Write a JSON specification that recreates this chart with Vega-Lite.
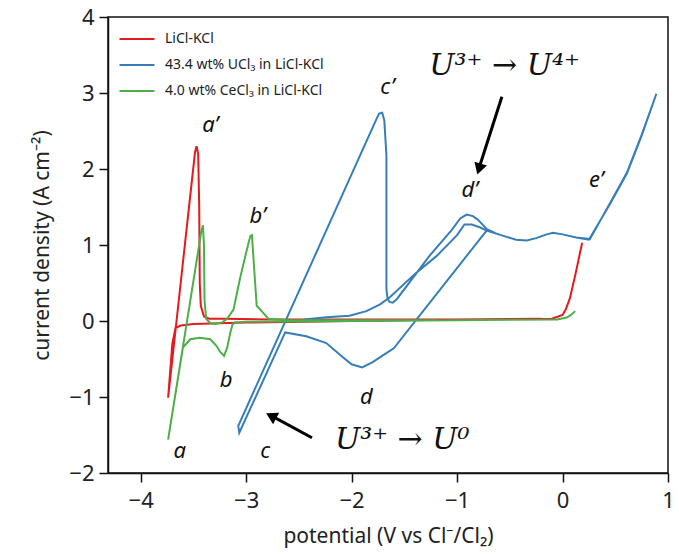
{
  "$schema": "https://vega.github.io/schema/vega-lite/v6.json",
  "width": 560,
  "height": 456,
  "autosize": {"type": "none"},
  "padding": {"left": 108, "top": 17, "right": 11, "bottom": 81},
  "background": "white",
  "config": {
    "font": "Noto Sans",
    "view": {"stroke": "#111", "strokeWidth": 1.5},
    "axis": {"grid": false, "domainColor": "#111", "domainWidth": 1.5, "tickColor": "#111", "tickWidth": 1.5, "tickSize": 9, "labelFontSize": 22, "labelColor": "#222", "titleFontSize": 21, "titleFontWeight": "normal", "titleColor": "#222", "labelFlush": false, "labelBound": false, "labelOverlap": false, "format": "d"}
  },
  "datasets": {
    "curves": [
      {"series": "LiCl-KCl", "i": 1, "E": 0.186, "j": 1.03},
      {"series": "LiCl-KCl", "i": 2, "E": 0.12, "j": 0.6},
      {"series": "LiCl-KCl", "i": 3, "E": 0.07, "j": 0.3},
      {"series": "LiCl-KCl", "i": 4, "E": 0.03, "j": 0.15},
      {"series": "LiCl-KCl", "i": 5, "E": 0.0, "j": 0.08},
      {"series": "LiCl-KCl", "i": 6, "E": -0.1, "j": 0.03},
      {"series": "LiCl-KCl", "i": 7, "E": -1.0, "j": 0.02},
      {"series": "LiCl-KCl", "i": 8, "E": -2.0, "j": 0.0},
      {"series": "LiCl-KCl", "i": 9, "E": -3.0, "j": -0.02},
      {"series": "LiCl-KCl", "i": 10, "E": -3.5, "j": -0.04},
      {"series": "LiCl-KCl", "i": 11, "E": -3.62, "j": -0.06},
      {"series": "LiCl-KCl", "i": 12, "E": -3.67, "j": -0.09},
      {"series": "LiCl-KCl", "i": 13, "E": -3.7, "j": -0.3},
      {"series": "LiCl-KCl", "i": 14, "E": -3.74, "j": -1.01},
      {"series": "LiCl-KCl", "i": 15, "E": -3.485, "j": 2.22},
      {"series": "LiCl-KCl", "i": 16, "E": -3.47, "j": 2.3},
      {"series": "LiCl-KCl", "i": 17, "E": -3.455, "j": 2.2},
      {"series": "LiCl-KCl", "i": 18, "E": -3.445, "j": 1.5},
      {"series": "LiCl-KCl", "i": 19, "E": -3.44, "j": 0.5},
      {"series": "LiCl-KCl", "i": 20, "E": -3.43, "j": 0.2},
      {"series": "LiCl-KCl", "i": 21, "E": -3.4, "j": 0.06},
      {"series": "LiCl-KCl", "i": 22, "E": -3.35, "j": 0.03},
      {"series": "LiCl-KCl", "i": 23, "E": -3.2, "j": 0.03},
      {"series": "LiCl-KCl", "i": 24, "E": -2.8, "j": 0.02},
      {"series": "LiCl-KCl", "i": 25, "E": -2.0, "j": 0.02},
      {"series": "LiCl-KCl", "i": 26, "E": -1.0, "j": 0.02},
      {"series": "LiCl-KCl", "i": 27, "E": -0.2, "j": 0.03},

      {"series": "UCl3", "i": 1, "E": -2.45, "j": 0.02},
      {"series": "UCl3", "i": 2, "E": -2.24, "j": 0.05},
      {"series": "UCl3", "i": 3, "E": -2.02, "j": 0.07},
      {"series": "UCl3", "i": 4, "E": -1.86, "j": 0.13},
      {"series": "UCl3", "i": 5, "E": -1.73, "j": 0.22},
      {"series": "UCl3", "i": 6, "E": -1.64, "j": 0.31},
      {"series": "UCl3", "i": 7, "E": -1.4, "j": 0.62},
      {"series": "UCl3", "i": 8, "E": -1.19, "j": 0.86},
      {"series": "UCl3", "i": 9, "E": -1.0, "j": 1.13},
      {"series": "UCl3", "i": 10, "E": -0.93, "j": 1.27},
      {"series": "UCl3", "i": 11, "E": -0.86, "j": 1.27},
      {"series": "UCl3", "i": 12, "E": -0.78, "j": 1.23},
      {"series": "UCl3", "i": 13, "E": -0.72, "j": 1.19},
      {"series": "UCl3", "i": 14, "E": -0.56, "j": 1.12},
      {"series": "UCl3", "i": 15, "E": -0.44, "j": 1.07},
      {"series": "UCl3", "i": 16, "E": -0.34, "j": 1.06},
      {"series": "UCl3", "i": 17, "E": -0.25, "j": 1.09},
      {"series": "UCl3", "i": 18, "E": -0.15, "j": 1.14},
      {"series": "UCl3", "i": 19, "E": -0.09, "j": 1.16},
      {"series": "UCl3", "i": 20, "E": 0.0, "j": 1.14},
      {"series": "UCl3", "i": 21, "E": 0.13, "j": 1.1},
      {"series": "UCl3", "i": 22, "E": 0.26, "j": 1.08},
      {"series": "UCl3", "i": 23, "E": 0.45, "j": 1.55},
      {"series": "UCl3", "i": 24, "E": 0.61, "j": 1.95},
      {"series": "UCl3", "i": 25, "E": 0.75, "j": 2.45},
      {"series": "UCl3", "i": 26, "E": 0.89, "j": 2.99},
      {"series": "UCl3", "i": 27, "E": 0.75, "j": 2.44},
      {"series": "UCl3", "i": 28, "E": 0.61, "j": 1.94},
      {"series": "UCl3", "i": 29, "E": 0.45, "j": 1.54},
      {"series": "UCl3", "i": 30, "E": 0.25, "j": 1.07},
      {"series": "UCl3", "i": 31, "E": 0.13, "j": 1.1},
      {"series": "UCl3", "i": 32, "E": 0.0, "j": 1.14},
      {"series": "UCl3", "i": 33, "E": -0.09, "j": 1.16},
      {"series": "UCl3", "i": 34, "E": -0.15, "j": 1.14},
      {"series": "UCl3", "i": 35, "E": -0.25, "j": 1.09},
      {"series": "UCl3", "i": 36, "E": -0.34, "j": 1.06},
      {"series": "UCl3", "i": 37, "E": -0.44, "j": 1.07},
      {"series": "UCl3", "i": 38, "E": -0.56, "j": 1.12},
      {"series": "UCl3", "i": 39, "E": -0.72, "j": 1.19},
      {"series": "UCl3", "i": 40, "E": -1.6, "j": -0.36},
      {"series": "UCl3", "i": 41, "E": -1.7, "j": -0.45},
      {"series": "UCl3", "i": 42, "E": -1.8, "j": -0.54},
      {"series": "UCl3", "i": 43, "E": -1.9, "j": -0.61},
      {"series": "UCl3", "i": 44, "E": -2.0, "j": -0.57},
      {"series": "UCl3", "i": 45, "E": -2.08, "j": -0.48},
      {"series": "UCl3", "i": 46, "E": -2.24, "j": -0.29},
      {"series": "UCl3", "i": 47, "E": -2.43, "j": -0.2},
      {"series": "UCl3", "i": 48, "E": -2.63, "j": -0.15},
      {"series": "UCl3", "i": 49, "E": -3.065, "j": -1.47},
      {"series": "UCl3", "i": 50, "E": -3.075, "j": -1.38},
      {"series": "UCl3", "i": 51, "E": -1.77, "j": 2.64},
      {"series": "UCl3", "i": 52, "E": -1.74, "j": 2.73},
      {"series": "UCl3", "i": 53, "E": -1.71, "j": 2.74},
      {"series": "UCl3", "i": 54, "E": -1.69, "j": 2.64},
      {"series": "UCl3", "i": 55, "E": -1.67, "j": 2.18},
      {"series": "UCl3", "i": 56, "E": -1.67, "j": 0.42},
      {"series": "UCl3", "i": 57, "E": -1.66, "j": 0.3},
      {"series": "UCl3", "i": 58, "E": -1.64, "j": 0.25},
      {"series": "UCl3", "i": 59, "E": -1.61, "j": 0.24},
      {"series": "UCl3", "i": 60, "E": -1.57, "j": 0.29},
      {"series": "UCl3", "i": 61, "E": -1.26, "j": 0.86},
      {"series": "UCl3", "i": 62, "E": -1.05, "j": 1.2},
      {"series": "UCl3", "i": 63, "E": -0.97, "j": 1.35},
      {"series": "UCl3", "i": 64, "E": -0.91, "j": 1.4},
      {"series": "UCl3", "i": 65, "E": -0.85, "j": 1.38},
      {"series": "UCl3", "i": 66, "E": -0.8, "j": 1.33},
      {"series": "UCl3", "i": 67, "E": -0.72, "j": 1.21},
      {"series": "UCl3", "i": 68, "E": -0.64, "j": 1.16},

      {"series": "CeCl3", "i": 1, "E": 0.12, "j": 0.13},
      {"series": "CeCl3", "i": 2, "E": 0.08, "j": 0.08},
      {"series": "CeCl3", "i": 3, "E": 0.04, "j": 0.045},
      {"series": "CeCl3", "i": 4, "E": -0.05, "j": 0.02},
      {"series": "CeCl3", "i": 5, "E": -1.0, "j": 0.01},
      {"series": "CeCl3", "i": 6, "E": -2.0, "j": 0.0},
      {"series": "CeCl3", "i": 7, "E": -3.0, "j": -0.01},
      {"series": "CeCl3", "i": 8, "E": -3.11, "j": -0.02},
      {"series": "CeCl3", "i": 9, "E": -3.13, "j": -0.05},
      {"series": "CeCl3", "i": 10, "E": -3.15, "j": -0.15},
      {"series": "CeCl3", "i": 11, "E": -3.18, "j": -0.35},
      {"series": "CeCl3", "i": 12, "E": -3.21, "j": -0.46},
      {"series": "CeCl3", "i": 13, "E": -3.25, "j": -0.4},
      {"series": "CeCl3", "i": 14, "E": -3.28, "j": -0.33},
      {"series": "CeCl3", "i": 15, "E": -3.34, "j": -0.24},
      {"series": "CeCl3", "i": 16, "E": -3.44, "j": -0.22},
      {"series": "CeCl3", "i": 17, "E": -3.53, "j": -0.24},
      {"series": "CeCl3", "i": 18, "E": -3.6, "j": -0.35},
      {"series": "CeCl3", "i": 19, "E": -3.74, "j": -1.56},
      {"series": "CeCl3", "i": 20, "E": -3.425, "j": 1.18},
      {"series": "CeCl3", "i": 21, "E": -3.41, "j": 1.26},
      {"series": "CeCl3", "i": 22, "E": -3.4, "j": 1.0},
      {"series": "CeCl3", "i": 23, "E": -3.395, "j": 0.29},
      {"series": "CeCl3", "i": 24, "E": -3.38, "j": 0.03},
      {"series": "CeCl3", "i": 25, "E": -3.34, "j": -0.03},
      {"series": "CeCl3", "i": 26, "E": -3.3, "j": -0.04},
      {"series": "CeCl3", "i": 27, "E": -3.23, "j": -0.02},
      {"series": "CeCl3", "i": 28, "E": -3.18, "j": 0.03},
      {"series": "CeCl3", "i": 29, "E": -3.12, "j": 0.15},
      {"series": "CeCl3", "i": 30, "E": -3.06, "j": 0.55},
      {"series": "CeCl3", "i": 31, "E": -3.0, "j": 0.9},
      {"series": "CeCl3", "i": 32, "E": -2.96, "j": 1.12},
      {"series": "CeCl3", "i": 33, "E": -2.945, "j": 1.13},
      {"series": "CeCl3", "i": 34, "E": -2.93, "j": 0.81},
      {"series": "CeCl3", "i": 35, "E": -2.9, "j": 0.2},
      {"series": "CeCl3", "i": 36, "E": -2.84, "j": 0.11},
      {"series": "CeCl3", "i": 37, "E": -2.79, "j": 0.03},
      {"series": "CeCl3", "i": 38, "E": -2.6, "j": 0.01},
      {"series": "CeCl3", "i": 39, "E": -2.0, "j": 0.01},
      {"series": "CeCl3", "i": 40, "E": -1.2, "j": 0.01}
    ],
    "letters": [
      {"t": "a’", "E": -3.34, "j": 2.58},
      {"t": "b’", "E": -2.89, "j": 1.38},
      {"t": "b", "E": -3.19, "j": -0.77},
      {"t": "a", "E": -3.63, "j": -1.71},
      {"t": "c", "E": -2.82, "j": -1.71},
      {"t": "c’", "E": -1.66, "j": 3.08},
      {"t": "d’", "E": -0.88, "j": 1.72},
      {"t": "d", "E": -1.86, "j": -1.0},
      {"t": "e’", "E": 0.32, "j": 1.85}
    ],
    "eqs": [
      {"t": "U³⁺ →  U⁴⁺", "E": -0.55, "j": 3.35},
      {"t": "U³⁺ →  U⁰", "E": -1.52, "j": -1.56}
    ]
  },
  "layer": [
    {
      "data": {"name": "curves"},
      "mark": {"type": "line", "strokeWidth": 2, "interpolate": "linear"},
      "encoding": {
        "x": {"field": "E", "type": "quantitative", "scale": {"domain": [-4.31, 1.0], "nice": false, "zero": false}, "axis": {"values": [-4, -3, -2, -1, 0, 1], "title": "potential (V vs Cl⁻/Cl₂)", "labelPadding": 8, "titlePadding": 14}},
        "y": {"field": "j", "type": "quantitative", "scale": {"domain": [-2, 4], "nice": false}, "axis": {"values": [-2, -1, 0, 1, 2, 3, 4], "title": "current density (A cm⁻²)", "labelPadding": 5, "titlePadding": 16}},
        "color": {"field": "series", "type": "nominal",
          "scale": {"domain": ["LiCl-KCl", "UCl3", "CeCl3"], "range": ["#e41a1c", "#377eb8", "#4daf4a"]},
          "legend": {"title": null, "orient": "none", "legendX": 10, "legendY": 3, "symbolType": "stroke", "symbolSize": 1225, "symbolStrokeWidth": 2.2, "labelFontSize": 14, "labelColor": "#222", "rowPadding": -4, "labelOffset": 9,
            "labelExpr": "datum.label == 'UCl3' ? '43.4 wt% UCl₃ in LiCl-KCl' : datum.label == 'CeCl3' ? '4.0 wt% CeCl₃ in LiCl-KCl' : datum.label"}},
        "order": {"field": "i", "type": "quantitative"}
      }
    },
    {
      "data": {"name": "letters"},
      "mark": {"type": "text", "font": "Noto Sans", "fontStyle": "italic", "fontSize": 22, "color": "#111"},
      "encoding": {
        "x": {"field": "E", "type": "quantitative"},
        "y": {"field": "j", "type": "quantitative"},
        "text": {"field": "t"}
      }
    },
    {
      "data": {"name": "eqs"},
      "mark": {"type": "text", "font": "DejaVu Serif", "fontStyle": "italic", "fontSize": 30, "color": "#111"},
      "encoding": {
        "x": {"field": "E", "type": "quantitative"},
        "y": {"field": "j", "type": "quantitative"},
        "text": {"field": "t"}
      }
    },
    {
      "data": {"values": [{"E": -0.575, "j": 2.95, "E2": -0.79, "j2": 2.02}, {"E": -2.376, "j": -1.536, "E2": -2.75, "j2": -1.255}]},
      "mark": {"type": "rule", "strokeWidth": 3, "color": "#000"},
      "encoding": {
        "x": {"field": "E", "type": "quantitative"},
        "y": {"field": "j", "type": "quantitative"},
        "x2": {"field": "E2"},
        "y2": {"field": "j2"}
      }
    },
    {
      "data": {"values": [{"E": -0.792, "j": 2.0}]},
      "mark": {"type": "point", "shape": "triangle-up", "filled": true, "size": 170, "angle": 197.6, "color": "#000", "opacity": 1},
      "encoding": {
        "x": {"field": "E", "type": "quantitative"},
        "y": {"field": "j", "type": "quantitative"}
      }
    },
    {
      "data": {"values": [{"E": -2.763, "j": -1.248}]},
      "mark": {"type": "point", "shape": "triangle-up", "filled": true, "size": 170, "angle": 298, "color": "#000", "opacity": 1},
      "encoding": {
        "x": {"field": "E", "type": "quantitative"},
        "y": {"field": "j", "type": "quantitative"}
      }
    }
  ]
}
